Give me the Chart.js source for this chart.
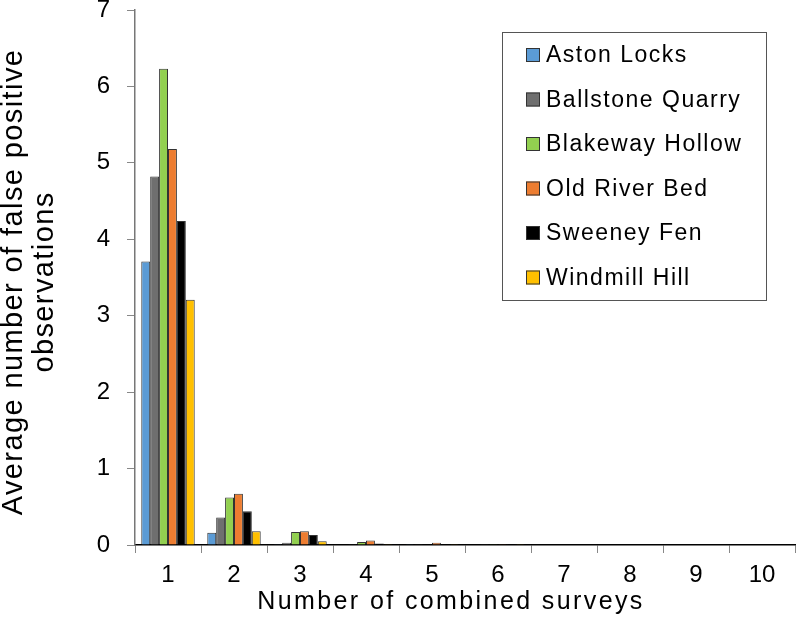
<!DOCTYPE html>
<html>
<head>
<meta charset="utf-8">
<script src="https://cdn.jsdelivr.net/npm/chart.js@4.4.0/dist/chart.umd.min.js"></script>
<style>
  html, body { margin: 0; padding: 0; background: #fff; }
  #wrap { width: 796px; height: 628px; }
</style>
</head>
<body>
<div id="wrap"><canvas id="chart" width="796" height="628"></canvas></div>
<script>
// number of combined surveys
var surveys = ['1', '2', '3', '4', '5', '6', '7', '8', '9', '10'];

// average number of false positive observations per site
var astonLocks      = [3.71, 0.16, 0.01, 0.005, 0.003, 0, 0, 0, 0, 0];
var ballstoneQuarry = [4.82, 0.36, 0.03, 0.01, 0.003, 0.002, 0, 0, 0, 0];
var blakewayHollow  = [6.23, 0.62, 0.17, 0.04, 0.005, 0.003, 0, 0, 0, 0];
var oldRiverBed     = [5.18, 0.67, 0.18, 0.06, 0.03, 0.003, 0, 0, 0, 0];
var sweeneyFen      = [4.24, 0.44, 0.13, 0.02, 0.005, 0.01, 0, 0, 0, 0];
var windmillHill    = [3.21, 0.18, 0.05, 0.01, 0.003, 0.002, 0, 0, 0, 0];

var siteNames = ['Aston Locks', 'Ballstone Quarry', 'Blakeway Hollow', 'Old River Bed', 'Sweeney Fen', 'Windmill Hill'];
var siteColors = ['#5B9BD5', '#6F6F6F', '#92D050', '#ED7D31', '#000000', '#FFC000'];
var siteValues = [astonLocks, ballstoneQuarry, blakewayHollow, oldRiverBed, sweeneyFen, windmillHill];

var yTicks = [0, 1, 2, 3, 4, 5, 6, 7];

var xTitle = 'Number of combined surveys';
var yTitle = ['Average number of false positive', 'observations'];

var FONT = '"Liberation Sans", Arial, Helvetica, sans-serif';

var datasets = [];
for (var i = 0; i < siteNames.length; i++) {
  datasets.push({
    label: siteNames[i],
    data: siteValues[i],
    backgroundColor: siteColors[i],
    borderColor: '#333333',
    borderWidth: 1,
    categoryPercentage: 0.81,
    barPercentage: 1.0
  });
}

// axis titles (drawn here so the letter spacing can match the original)
var axisTitles = {
  id: 'axisTitles',
  afterDraw: function(chart) {
    var ctx = chart.ctx;
    ctx.save();
    ctx.fillStyle = '#000';
    ctx.textAlign = 'center';
    ctx.textBaseline = 'middle';
    ctx.letterSpacing = '2.4px';
    ctx.font = '25px ' + FONT;
    ctx.fillText(xTitle, 451, 602);

    ctx.letterSpacing = '1.4px';
    ctx.font = '29px ' + FONT;
    ctx.translate(0, 282);
    ctx.rotate(-Math.PI / 2);
    ctx.fillText(yTitle[0], 0, 14);
    ctx.fillText(yTitle[1], 0, 45);
    ctx.restore();
  }
};

// boxed legend drawn inside the plot, top right
var boxLegend = {
  id: 'boxLegend',
  afterDraw: function(chart) {
    var ctx = chart.ctx;
    var x0 = 502, y0 = 32, w = 264, h = 268;
    ctx.save();
    ctx.fillStyle = '#ffffff';
    ctx.fillRect(x0, y0, w, h);
    ctx.strokeStyle = '#555555';
    ctx.lineWidth = 1;
    ctx.strokeRect(x0 + 0.5, y0 + 0.5, w, h);
    ctx.font = '23px ' + FONT;
    ctx.letterSpacing = '1.5px';
    ctx.textBaseline = 'middle';
    var ds = chart.data.datasets;
    for (var i = 0; i < ds.length; i++) {
      var cy = 55 + i * 44.5;
      ctx.fillStyle = ds[i].backgroundColor;
      ctx.fillRect(526, cy - 7, 14, 14);
      ctx.strokeStyle = '#333333';
      ctx.strokeRect(526.5, cy - 6.5, 13, 13);
      ctx.fillStyle = '#000000';
      ctx.fillText(ds[i].label, 546, cy + 1);
    }
    ctx.restore();
  }
};

new Chart(document.getElementById('chart'), {
  type: 'bar',
  data: { labels: surveys, datasets: datasets },
  options: {
    responsive: false,
    animation: false,
    layout: { padding: { top: 10, right: 1, left: 0, bottom: 0 } },
    plugins: {
      legend: { display: false },
      tooltip: { enabled: false }
    },
    scales: {
      x: {
        afterFit: function(axis) { axis.height = 83; axis.paddingLeft = 0; axis.paddingRight = 0; },
        grid: {
          offset: true,
          drawOnChartArea: false,
          drawTicks: true,
          tickLength: 8,
          color: '#888888'
        },
        border: { color: '#000000', width: 1.5 },
        ticks: { color: '#000', font: { family: FONT, size: 24 }, padding: 8 }
      },
      y: {
        min: 0,
        max: 7,
        afterBuildTicks: function(axis) {
          axis.ticks = yTicks.map(function(v) { return { value: v }; });
        },
        afterFit: function(axis) { axis.width = 135; axis.paddingTop = 0; axis.paddingBottom = 0; },
        grid: {
          drawOnChartArea: false,
          drawTicks: true,
          tickLength: 8,
          color: '#888888'
        },
        border: { color: '#777777', width: 1.5 },
        ticks: { color: '#000', font: { family: FONT, size: 24 }, padding: 17 }
      }
    }
  },
  plugins: [axisTitles, boxLegend]
});
</script>
</body>
</html>
